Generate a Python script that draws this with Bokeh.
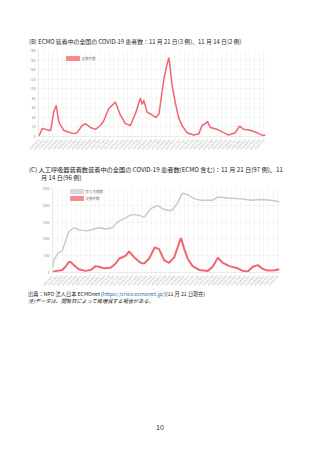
import math
import pandas as pd
from bokeh.plotting import figure
from bokeh.models import Div, FixedTicker, DatetimeTickFormatter, Range1d, BoxAnnotation, Label
from bokeh.layouts import column
from bokeh.embed import file_html
from bokeh.resources import INLINE

# ---- Data ----
ecmo_dates = ["2020-02-10", "2020-02-18", "2020-02-26", "2020-03-11", "2020-04-03", "2020-04-17",
              "2020-04-28", "2020-05-10", "2020-06-01", "2020-07-01", "2020-07-16", "2020-07-31",
              "2020-08-22", "2020-09-06", "2020-09-28", "2020-10-21", "2020-11-12", "2020-11-27",
              "2020-12-19", "2021-01-18", "2021-02-10", "2021-03-04", "2021-03-26", "2021-04-18",
              "2021-05-10", "2021-05-18", "2021-05-25", "2021-06-09", "2021-06-28", "2021-07-18",
              "2021-08-01", "2021-08-14", "2021-08-25", "2021-09-06", "2021-09-14", "2021-09-21",
              "2021-09-29", "2021-10-14", "2021-10-28", "2021-11-12", "2021-12-05", "2022-01-03",
              "2022-01-26", "2022-02-10", "2022-02-25", "2022-03-07", "2022-03-19", "2022-04-18",
              "2022-05-17", "2022-06-09", "2022-07-09", "2022-07-28", "2022-08-15", "2022-09-14",
              "2022-10-14", "2022-11-05", "2022-11-14", "2022-11-21"]
ecmo_values = [0, 8, 17, 15, 12, 51,
               65, 30, 13, 8, 6, 8,
               23, 27, 19, 15, 23, 33,
               58, 72, 44, 27, 23, 48,
               80, 67, 76, 51, 46, 40,
               47, 90, 125, 150, 165, 142,
               107, 69, 40, 23, 8, 3,
               5, 23, 27, 31, 19, 15,
               8, 3, 8, 22, 15, 13,
               8, 3, 2, 3]

cap_dates = ["2020-02-10", "2020-02-15", "2020-03-01", "2020-03-24", "2020-04-07", "2020-04-22",
             "2020-05-15", "2020-06-06", "2020-07-14", "2020-08-12", "2020-09-04", "2020-10-04",
             "2020-11-03", "2020-11-26", "2020-12-25", "2021-01-24", "2021-02-23", "2021-03-25",
             "2021-04-24", "2021-05-24", "2021-06-17", "2021-07-15", "2021-07-31", "2021-08-22",
             "2021-09-13", "2021-10-06", "2021-11-05", "2021-12-05", "2022-01-26", "2022-02-18",
             "2022-04-04", "2022-06-02", "2022-07-17", "2022-08-31", "2022-10-15", "2022-11-21"]
cap_values = [123, 362, 552, 648, 933, 1219,
              1333, 1267, 1240, 1295, 1333, 1295,
              1333, 1505, 1600, 1714, 1714, 1648,
              1900, 2000, 1890, 1838, 1867, 2076,
              2362, 2314, 2190, 2152, 2152, 2248,
              2219, 2190, 2152, 2171, 2152, 2105]

vent_dates = ["2020-02-10", "2020-03-01", "2020-03-24", "2020-04-07", "2020-04-22", "2020-04-30",
              "2020-05-15", "2020-06-06", "2020-07-06", "2020-07-29", "2020-08-20", "2020-09-04",
              "2020-09-26", "2020-10-26", "2020-11-18", "2020-12-03", "2021-01-02", "2021-01-17",
              "2021-02-08", "2021-03-10", "2021-03-25", "2021-04-16", "2021-05-12", "2021-05-31",
              "2021-06-23", "2021-07-15", "2021-08-07", "2021-08-22", "2021-09-06", "2021-09-21",
              "2021-10-06", "2021-10-28", "2021-11-27", "2022-01-04", "2022-01-26", "2022-02-18",
              "2022-03-12", "2022-04-11", "2022-05-18", "2022-06-10", "2022-07-02", "2022-07-25",
              "2022-08-16", "2022-09-08", "2022-09-30", "2022-10-30", "2022-11-21"]
vent_values = [20, 48, 76, 171, 314, 314,
               219, 95, 48, 76, 190, 171,
               124, 143, 267, 410, 505, 629,
               457, 286, 267, 410, 750, 695,
               362, 286, 457, 743, 1029, 695,
               410, 190, 76, 48, 171, 438,
               286, 190, 124, 48, 29, 171,
               219, 105, 57, 67, 97]

b_yticks = [0, 20, 40, 60, 80, 100, 120, 140, 160, 180]
c_yticks = [0, 500, 1000, 1500, 2000, 2500]
legend_b = ["実施件数"]
legend_c = ["受入可能数", "実施件数"]

title_b = "(B) ECMO 装着中の全国の COVID-19 患者数：11 月 21 日(3 例)、11 月 14 日(2 例)"
title_c1 = "(C) 人工呼吸器装着数装着中の全国の COVID-19 患者数(ECMO 含む)：11 月 21 日(97 例)、11"
title_c2 = "月 14 日(96 例)"

FONT = "'Noto Sans CJK JP', 'Noto Sans', sans-serif"
RED = "#ef6670"
RED_FILL = "#f58a90"
GRAY = "#c8c8c8"
GRAY_FILL = "#dadada"

x_start = pd.Timestamp("2020-02-09")
x_end = pd.Timestamp("2022-11-21")
tick_dates = pd.date_range("2020-02-10", "2022-11-21", freq="21D")
tick_ms = [t.value / 1e6 for t in tick_dates]

# identical borders for both charts (a column aligns plot frames); chart C is shifted by a margin
FIG_W = 306
BORDER_L = 38
BORDER_R = 41


def style(p, yticks):
    p.outline_line_color = None
    p.background_fill_color = "white"
    p.xaxis.ticker = FixedTicker(ticks=tick_ms)
    p.yaxis.ticker = FixedTicker(ticks=yticks)
    fmt = "%Y/%m/%d"
    p.xaxis.formatter = DatetimeTickFormatter(
        milliseconds=fmt, seconds=fmt, minsec=fmt, minutes=fmt, hourmin=fmt, hours=fmt,
        days=fmt, months=fmt, years=fmt)
    p.xaxis.major_label_orientation = math.pi / 4
    for ax in (p.xaxis, p.yaxis):
        ax.major_label_text_font_size = "2.5px"
        ax.major_label_text_color = "#8a8a8a"
        ax.major_label_text_font = "Noto Sans"
        ax.axis_line_color = "#dddddd"
        ax.axis_line_width = 0.6
        ax.major_tick_line_color = "#e6e6e6"
        ax.major_tick_line_width = 0.5
        ax.major_tick_in = 0
        ax.major_tick_out = 2
        ax.minor_tick_line_color = None
        ax.major_label_standoff = 1
    p.yaxis.major_label_text_font_size = "3px"
    p.xgrid.grid_line_color = "#ececec"
    p.ygrid.grid_line_color = "#ececec"
    p.xgrid.grid_line_width = 0.5
    p.ygrid.grid_line_width = 0.5
    p.xgrid.ticker = FixedTicker(ticks=tick_ms)
    p.ygrid.ticker = FixedTicker(ticks=yticks)


def legend_entry(p, text, x, y_top, fill, line):
    # x, y_top in screen px relative to frame left / frame bottom
    p.add_layout(BoxAnnotation(left=x, right=x + 13, bottom=y_top - 4, top=y_top,
                               left_units="screen", right_units="screen",
                               bottom_units="screen", top_units="screen",
                               fill_color=fill, fill_alpha=1, line_color=line, line_width=0.6,
                               line_alpha=1))
    p.add_layout(Label(x=x + 15, y=y_top - 2, x_units="screen", y_units="screen", text=text,
                       text_font_size="3.5px", text_color="#777777", text_font="Noto Sans CJK JP",
                       text_baseline="middle", text_align="left"))


# ---- Chart B ----
pb = figure(width=FIG_W, height=112, x_axis_type="datetime", output_backend="svg",
            toolbar_location=None, x_range=Range1d(x_start, x_end), y_range=Range1d(0, 180),
            min_border_left=BORDER_L, min_border_right=BORDER_R, min_border_top=6, min_border_bottom=20)
style(pb, b_yticks)
pb.line(pd.to_datetime(ecmo_dates), ecmo_values, line_color=RED, line_width=1.5)
legend_entry(pb, legend_b[0], 28, 80, RED_FILL, RED)
pb.margin = (0, 0, 0, 0)

# ---- Chart C ----
pc = figure(width=FIG_W, height=107, x_axis_type="datetime", output_backend="svg",
            toolbar_location=None, x_range=Range1d(x_start, x_end), y_range=Range1d(0, 2500),
            min_border_left=BORDER_L, min_border_right=BORDER_R, min_border_top=5, min_border_bottom=14)
style(pc, c_yticks)
pc.line(pd.to_datetime(cap_dates), cap_values, line_color=GRAY, line_width=1.4)
pc.line(pd.to_datetime(vent_dates), vent_values, line_color=RED, line_width=2)
legend_entry(pc, legend_c[0], 18, 83, GRAY_FILL, GRAY)
legend_entry(pc, legend_c[1], 18, 76, RED_FILL, RED)
pc.margin = (0, 0, 0, 14)


def div(html, h):
    return Div(text=html, width=320, height=h, margin=0)


base = f"font-family:{FONT};color:#222;white-space:nowrap;"
top_space = div("", 32)
tb = div(f"<div style=\"{base}font-size:5.9px;line-height:12px;padding-left:29px;\">{title_b}</div>", 12)
tc = div(f"<div style=\"{base}font-size:6.2px;line-height:8px;"
         f"padding-top:10px;padding-left:41px;text-indent:-12px;\">{title_c1}<br>{title_c2}</div>", 27)
footer = div(f"<div style=\"{base}font-size:5.2px;line-height:7px;padding-left:28px;\">"
             f"出典：NPO 法人日本 ECMOnet (<span style=\"color:#2d6db5\">https://crisis.ecmonet.jp/</span>)(11 月 21 日現在)<br>"
             f"<i>注)データは、閲覧日によって微増減する場合がある。</i></div>", 16)
space2 = div("", 112)
pnum = div(f"<div style=\"{base}font-size:7px;line-height:12px;text-align:center;width:320px;\">10</div>", 12)

layout = column(top_space, tb, pb, tc, pc, footer, space2, pnum, spacing=0)
open("out.html", "w").write(file_html(layout, INLINE))
